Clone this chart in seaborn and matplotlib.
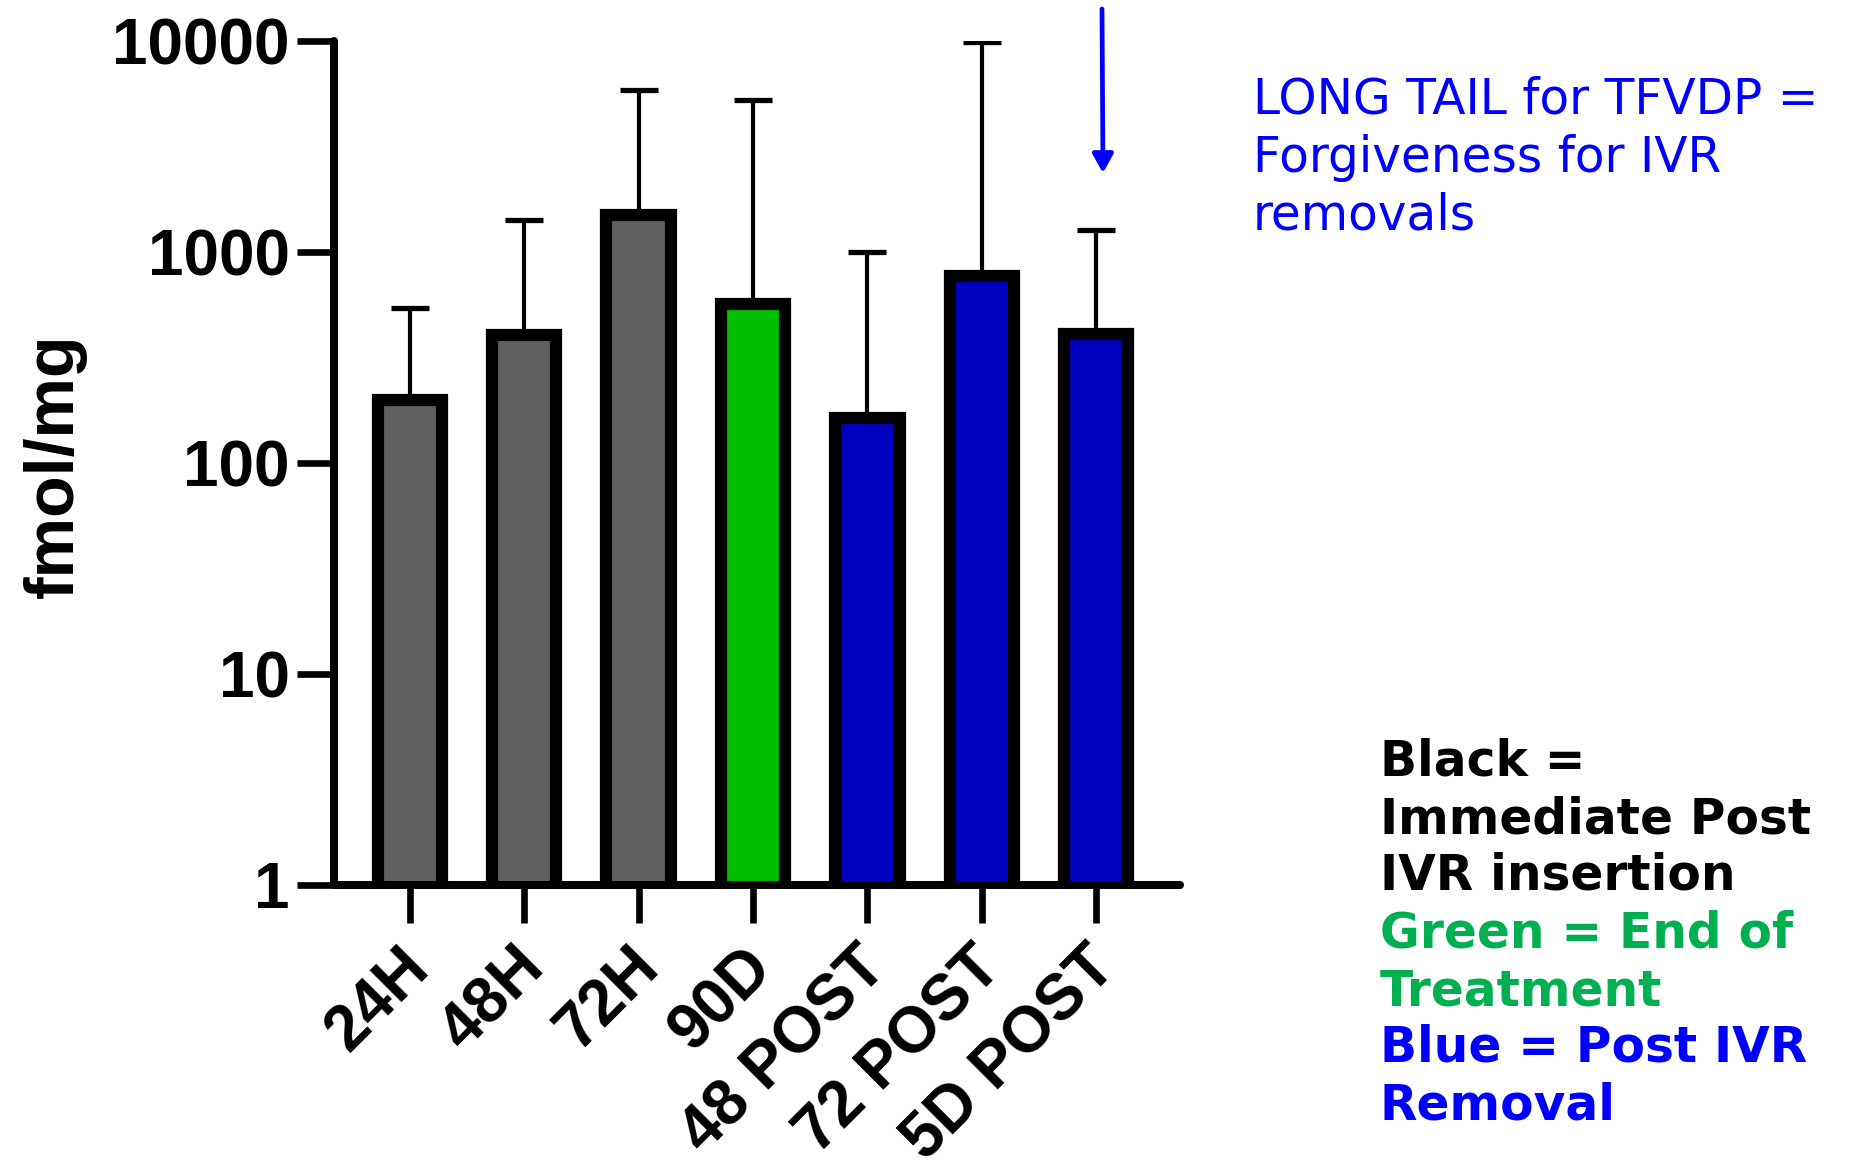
import matplotlib
matplotlib.use("Agg")
import matplotlib.pyplot as plt
import matplotlib.transforms as mtransforms
import seaborn as sns
import numpy as np

# values (fmol/mg, log scale)
groups = ["24H", "48H", "72H", "90D", "48 POST", "72 POST", "5D POST"]
means = [198, 405, 1500, 565, 163, 770, 410]
upper = [540, 1420, 5850, 5250, 1000, 9900, 1270]
bar_colors = ["#606060", "#606060", "#606060", "#00BE00", "#0000C0", "#0000C0", "#0000C0"]

yticks = [1, 10, 100, 1000, 10000]
ytick_labels = ["1", "10", "100", "1000", "10000"]

note_lines = ["LONG TAIL for TFVDP =", "Forgiveness for IVR", "removals"]
key_lines = ["Black =", "Immediate Post", "IVR insertion",
             "Green = End of", "Treatment", "Blue = Post IVR", "Removal"]
key_colors = ["black", "black", "black", "#00B050", "#00B050", "#0000FF", "#0000FF"]

W, H = 1850, 1170

sns.set_style("ticks")
plt.rcParams["font.family"] = ["Liberation Sans", "DejaVu Sans"]
plt.rcParams["text.color"] = "black"
plt.rcParams["axes.edgecolor"] = "black"
plt.rcParams["xtick.color"] = "black"
plt.rcParams["ytick.color"] = "black"
plt.rcParams["xtick.labelcolor"] = "black"
plt.rcParams["ytick.labelcolor"] = "black"

fig = plt.figure(figsize=(W / 100, H / 100), dpi=100)
ax = fig.add_axes([334 / W, 1 - 885 / H, (1180 - 334) / W, (885 - 41) / H])

sns.barplot(x=groups, y=means, hue=groups, palette=bar_colors, legend=False,
            width=0.56, edgecolor="black", linewidth=8.8, errorbar=None,
            saturation=1, ax=ax)
ax.set_yscale("log")

lo = np.zeros(len(means))
hi = np.array(upper) - np.array(means)
ax.errorbar(np.arange(len(groups)), means, yerr=[lo, hi], fmt="none",
            ecolor="black", elinewidth=3, capsize=14, capthick=3.8, zorder=0.5)

ax.set_ylim(1, 10000)
ax.set_xlim(-0.66, 6.73)
ax.set_yticks(yticks)
ax.set_yticklabels(ytick_labels)
ax.yaxis.set_minor_locator(matplotlib.ticker.NullLocator())
ax.set_xlabel("")
ax.set_ylabel("")

sns.despine(ax=ax)
for s in ["left", "bottom"]:
    ax.spines[s].set_linewidth(5.8)
    ax.spines[s].set_capstyle("round")
ax.tick_params(axis="both", length=27, width=4.8, color="black")
ax.tick_params(axis="y", labelsize=46, pad=5)
ax.tick_params(axis="x", labelsize=46, pad=10)
for t in ax.get_yticklabels():
    t.set_fontweight("bold")
shift = mtransforms.ScaledTranslation(-8 / 72, 0, fig.dpi_scale_trans)
for t in ax.get_xticklabels():
    t.set_fontweight("bold")
    t.set_rotation(45)
    t.set_ha("right")
    t.set_va("top")
    t.set_rotation_mode("anchor")
    t.set_transform(t.get_transform() + shift)

fig.text(55 / W, 1 - 466 / H, "fmol/mg", rotation=90, ha="center", va="center",
         fontsize=49, fontweight="bold")

# blue note + arrow
note_base = [114, 172, 229]
for line, yb in zip(note_lines, note_base):
    fig.text(1253 / W, 1 - yb / H, line, color="#0000FF", fontsize=35,
             family="DejaVu Sans", ha="left", va="baseline")
ax.annotate("", xy=(1103 / W, 1 - 173 / H), xytext=(1102 / W, 1 - 9 / H),
            xycoords="figure fraction", textcoords="figure fraction",
            arrowprops=dict(arrowstyle="-|>,head_length=0.45,head_width=0.25",
                            color="#0000FF", lw=3.4,
                            mutation_scale=25, shrinkA=0, shrinkB=0))

# colour key
key_y = [761, 819, 876, 933, 991, 1048, 1106]
for line, c, yc in zip(key_lines, key_colors, key_y):
    fig.text(1380 / W, 1 - yc / H, line, color=c, fontsize=35, fontweight="bold",
             family="DejaVu Sans", ha="left", va="center")

fig.savefig("out.png", dpi=100)
